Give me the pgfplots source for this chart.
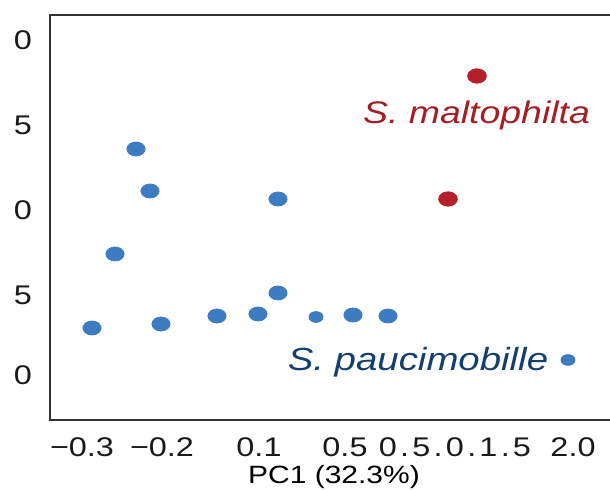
\documentclass[border=0pt]{standalone}
\usepackage{fontspec}
\setmainfont{Liberation Sans}[FakeStretch=1.2]
\usepackage{pgfplots}
\pgfplotsset{compat=1.18}
\definecolor{dotblue}{HTML}{3D7CC1}
\definecolor{dotred}{HTML}{B3202A}
\definecolor{txtnavy}{HTML}{123F6E}
\definecolor{txtred}{HTML}{A31F24}
\begin{document}
\begin{tikzpicture}
\begin{axis}[
  x=0.5pt, y=0.5pt,
  xmin=50, xmax=700, ymin=70, ymax=475,
  clip=false,
  axis line style={draw=black!80, line width=0.8pt},
  major tick length=0pt,
  xtick={82,162,259,345,455,573},
  xticklabels={−0.3, −0.2, 0.1, 0.5, {\addfontfeature{LetterSpace=12}0.5.0.1.5}, 2.0},
  ytick={115,195,280,365,450},
  yticklabels={0,5,0,5,0},
  tick label style={font=\fontsize{13.5}{15}\selectfont, text=black!90, anchor=center, inner sep=0pt},
  xticklabel style={yshift=-13.5pt},
  yticklabel style={xshift=-13.5pt},
  xlabel={PC1 (32.3\%)},
  xlabel style={font=\fontsize{12.5}{15}\selectfont, at={(axis description cs:0.4369,-0.1407)}, anchor=center, inner sep=0pt},
]
% large blue dots
\addplot[only marks, mark=*, mark size=3.5pt, color=dotblue, mark options={xscale=1.3}]
  coordinates {(136,341) (150,299) (278,291) (115,236) (278,197) (92,162)
               (161,166) (217,174) (258,176) (353,175) (388,174)};
% small blue dots
\addplot[only marks, mark=*, mark size=2.7pt, color=dotblue, mark options={xscale=1.3}]
  coordinates {(316,173) (568,130)};
% red dots
\addplot[only marks, mark=*, mark size=3.6pt, color=dotred, mark options={xscale=1.3}]
  coordinates {(477,414) (448,291)};
\node[text=txtred, font=\fontsize{15.6}{18}\selectfont\itshape] at (axis cs:476.5,375) {S. maltophilta};
\node[text=txtnavy, font=\fontsize{16}{18}\selectfont\itshape] at (axis cs:418,128) {S. paucimobille};
\coordinate (bl) at (axis cs:0,0);
\coordinate (tr) at (axis cs:610,490);
\end{axis}
\pgfresetboundingbox
\useasboundingbox (bl) rectangle (tr);
\end{tikzpicture}
\end{document}
